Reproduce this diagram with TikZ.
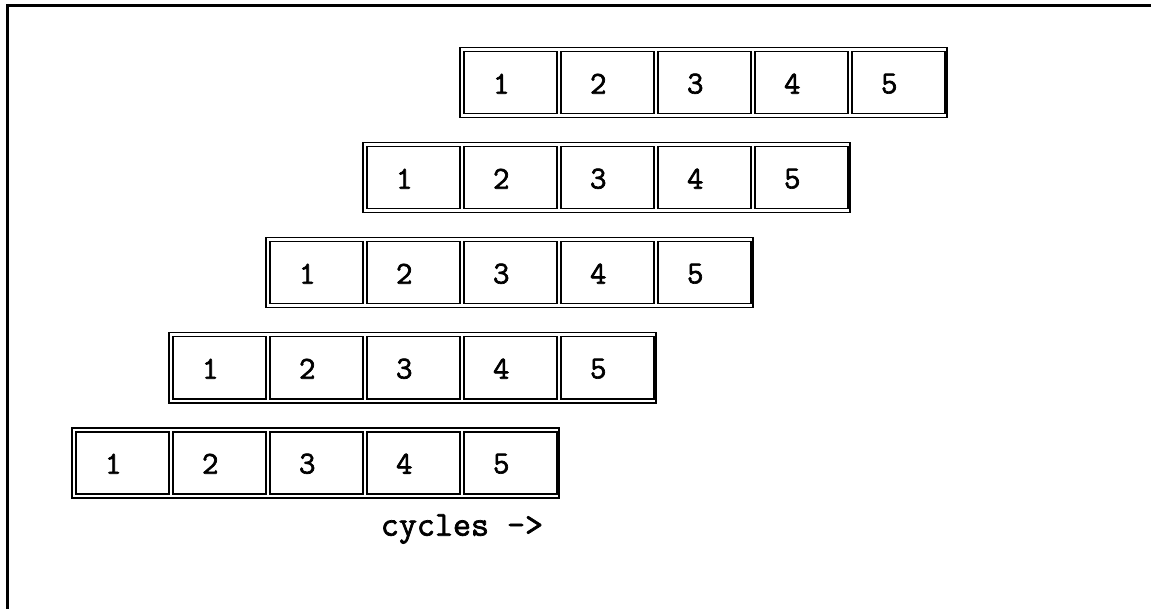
\documentclass[tikz,border=0pt]{standalone}
\usepackage{fontspec}
\setmonofont[AutoFakeBold=2]{Latin Modern Mono}
\begin{document}
\begin{tikzpicture}[x=1pt,y=-1pt,
  line width=1.5pt,
  outerbox/.style={draw, line width=1.5pt, minimum width=487pt, minimum height=70pt, inner sep=0pt, anchor=north west},
  cellbox/.style={draw, line width=1.5pt, minimum width=93pt, minimum height=62pt, inner sep=0pt, anchor=north west},
  digit/.style={font=\ttfamily\bfseries\fontsize{32}{32}\selectfont, inner sep=0pt},
  lbl/.style={font=\ttfamily\bfseries\fontsize{35}{35}\selectfont, inner sep=0pt}]
\useasboundingbox (0,0) rectangle (1151,609);
\coordinate (tl) at (7,6);
\coordinate (tr) at (1151,6);
\coordinate (bl) at (7,609);
\draw[line width=3pt] (tr) -- (tl) -- (bl);
\foreach \r in {0,...,4}{
  \node[outerbox] (o\r) at ({459-97*\r},{47+95*\r}) {};
  \foreach \i in {1,...,5}{
    \node[cellbox] (c\r\i) at ({459-97*\r+4+97*(\i-1)},{47+95*\r+4}) {};
    \node[digit] (d\r\i) at ([xshift=-9pt,yshift=-1pt]c\r\i.center) {\i};
  }
}
\node[lbl] (cyc) at (462,529) {cycles ->};
\end{tikzpicture}
\end{document}
